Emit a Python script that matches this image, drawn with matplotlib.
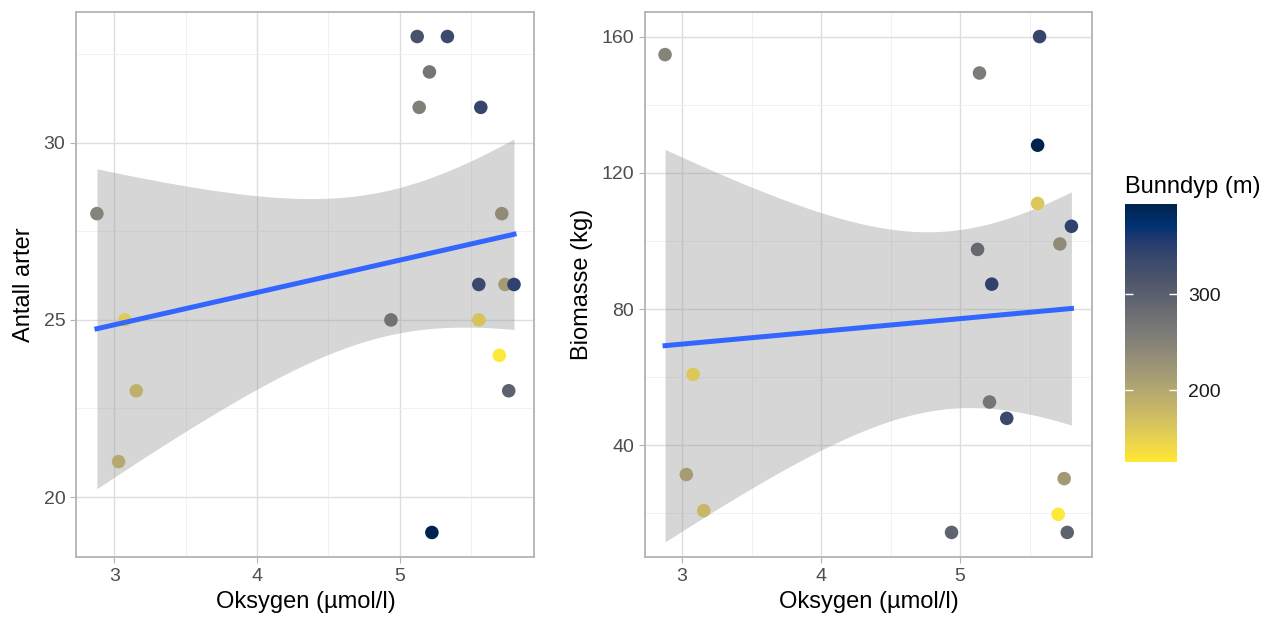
import matplotlib.pyplot as plt
import numpy as np
from matplotlib.colors import Normalize

plt.rcParams['font.family'] = ['Liberation Sans', 'DejaVu Sans']

# venstre panel : oksygen, antall arter, bunndyp
oks_a = [2.878, 5.717, 5.124, 5.336, 5.21, 5.138, 5.57, 5.556, 5.74, 5.803,
         3.074, 4.94, 5.556, 5.70, 5.766, 3.154, 3.03, 5.227]
arter = [28, 28, 33, 33, 32, 31, 31, 26, 26, 26,
         25, 25, 25, 24, 23, 23, 21, 19]
dyp_a = [248, 238, 321, 335, 268, 255, 340, 335, 216, 345,
         157, 273, 165, 125, 297, 187, 198, 394]

# høyre panel : oksygen, biomasse, bunndyp
oks_b = [2.878, 5.571, 5.139, 5.557, 5.557, 5.80, 5.717, 5.125, 5.227,
         3.079, 5.211, 5.335, 3.031, 3.156, 4.938, 5.748, 5.705, 5.77]
biomasse = [154.7, 160, 149.3, 128.1, 111, 104.3, 99.1, 97.5, 87.3,
            60.8, 52.7, 47.9, 31.4, 20.8, 14.4, 30.2, 19.7, 14.4]
dyp_b = [248, 340, 258, 394, 160, 345, 238, 287, 345,
         160, 268, 335, 215, 180, 295, 218, 125, 297]

norm = Normalize(125, 394)
cmap = 'cividis_r'


def lm_band(x, y):
    # lineær regresjon med 95 % konfidensintervall (som geom_smooth)
    x = np.asarray(x, float)
    y = np.asarray(y, float)
    n = len(x)
    b1, b0 = np.polyfit(x, y, 1)
    res = y - (b0 + b1*x)
    s = np.sqrt(np.sum(res**2)/(n-2))
    sxx = np.sum((x - x.mean())**2)
    xs = np.linspace(x.min(), x.max(), 80)
    yh = b0 + b1*xs
    se = s*np.sqrt(1/n + (xs - x.mean())**2/sxx)
    t = 2.1199  # t(0.975, df=16)
    return xs, yh, yh - t*se, yh + t*se


def panel(ax, x, y, c, ylab, yticks, yminor, ylim):
    xs, yh, lo, hi = lm_band(x, y)
    ax.fill_between(xs, lo, hi, color='#999999', alpha=0.4, lw=0, zorder=2)
    sc = ax.scatter(x, y, c=c, cmap=cmap, norm=norm, s=95, lw=0, zorder=3)
    ax.plot(xs, yh, color='#3366FF', lw=3.6, zorder=4)
    ax.set_xlim(2.734, 5.946)
    ax.set_ylim(*ylim)
    ax.set_xticks([3, 4, 5])
    ax.set_xticks([3.5, 4.5, 5.5], minor=True)
    ax.set_yticks(yticks)
    ax.set_yticks(yminor, minor=True)
    ax.grid(which='major', color='#DEDEDE', lw=1.0, zorder=0)
    ax.grid(which='minor', color='#EFEFEF', lw=0.6, zorder=0)
    ax.set_axisbelow(True)
    for sp in ax.spines.values():
        sp.set_color('#B3B3B3')
        sp.set_linewidth(1.3)
    ax.tick_params(which='major', length=4, color='#B3B3B3', labelsize=14,
                   labelcolor='#4D4D4D', pad=4)
    ax.tick_params(which='minor', length=0)
    ax.set_xlabel('Oksygen (µmol/l)', fontsize=17, labelpad=4)
    ax.set_ylabel(ylab, fontsize=17, labelpad=6)
    return sc


fig = plt.figure(figsize=(12.73, 6.23), dpi=100)
ax1 = fig.add_axes([0.060, 0.1055, 0.3598, 0.8757])
ax2 = fig.add_axes([0.5067, 0.1055, 0.3509, 0.8757])

panel(ax1, oks_a, arter, dyp_a, 'Antall arter', [20, 25, 30],
      [22.5, 27.5, 32.5], (18.3, 33.7))
sc = panel(ax2, oks_b, biomasse, dyp_b, 'Biomasse (kg)', [40, 80, 120, 160],
           [20, 60, 100, 140], (7.1, 167.3))

cax = fig.add_axes([0.8838, 0.2584, 0.0406, 0.4141])
cb = fig.colorbar(sc, cax=cax)
cb.outline.set_visible(False)
cb.set_ticks([200, 300])
cax.tick_params(direction='in', color='white', length=6, width=1,
                left=True, right=True, labelsize=14, labelcolor='#1A1A1A', pad=8)
cax.set_title('Bunndyp (m)', loc='left', fontsize=17, pad=8)

fig.savefig('out.png', dpi=100)
